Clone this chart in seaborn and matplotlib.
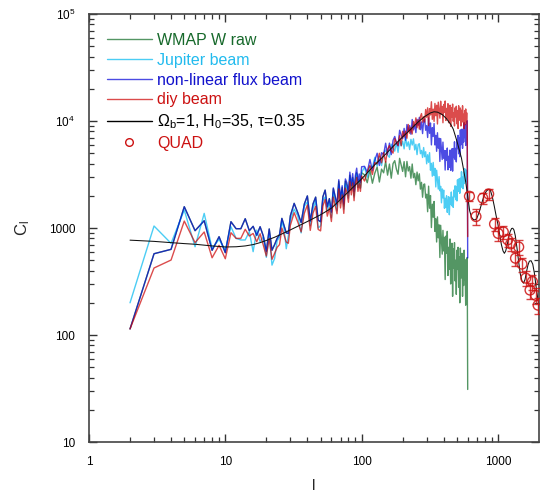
import matplotlib
matplotlib.use("Agg")
import matplotlib.pyplot as plt
import numpy as np
import pandas as pd
import seaborn as sns
from matplotlib.lines import Line2D
from matplotlib.ticker import FixedLocator, NullFormatter

# multipole grid of the measured spectra
ell = list(range(2, 31)) + list(range(32, 101, 2)) + list(range(105, 601, 5))

nonlinear_beam = [
    114, 575, 632, 1581, 944, 1170, 619, 829, 588, 1145, 985, 985, 1221, 944, 1037, 855, 1028, 842, 605,
    980, 620, 700, 800, 870, 1230, 1050, 900, 890, 1300,
    1700, 1390, 1125, 1677, 1995, 1160, 1680, 1944, 1184, 1144, 1962, 2261, 1577, 1881, 1408, 2372, 1984,
    1662, 2828, 1881, 2484, 1672, 2875, 2640, 2125, 3328, 2489, 3222, 2200, 3107, 3625, 2677, 3202, 2677, 3737,
    3770, 3320, 4370, 3450, 4300, 5000, 3840, 5060, 4850, 6200,
    4880, 6210, 4850, 6590, 7170, 6240, 5840, 8190, 7400, 6830,
    8530, 6620, 9270, 8000, 9060, 7520, 10330, 8260, 9320, 7790,
    10360, 9130, 10810, 8300, 9800, 7630, 10030, 10410, 8190, 9060,
    7010, 10700, 7670, 9580, 5980, 8670, 7170, 9470, 5970, 7340,
    5210, 7770, 5580, 6900, 4190, 6850, 5420, 4370, 6350, 4490,
    5300, 3480, 5280, 4280, 5590, 3500, 4680, 3700, 5350, 3450,
    4770, 5500, 3400, 5530, 4550, 6390, 4370, 5550, 4150, 6660,
    5520, 7340, 4940, 7010, 4640, 8260, 5990, 7480, 8400, 5550,
    8290, 6360, 9630, 7010, 8210, 5910, 9340, 6740, 10040, 525,
]

diy_beam = [
    114, 423, 502, 1161, 730, 918, 527, 689, 516, 904, 800, 800, 973, 842, 890, 745, 884, 693, 547,
    800, 510, 580, 660, 700, 1000, 860, 740, 720, 1060,
    1390, 1140, 920, 1375, 1640, 950, 1380, 1595, 970, 940, 1610, 1850, 1290, 1540, 1150, 1945, 1630,
    1360, 2320, 1540, 2040, 1370, 2360, 2165, 1740, 2730, 2040, 2640, 1800, 2550, 2970, 2200, 2625, 2200, 3060,
    2750, 3350, 3840, 3170, 4090, 3970, 4990, 4070, 5080, 4120,
    5430, 5890, 5260, 5010, 6830, 6300, 5910, 7290, 5880, 8010,
    7090, 8030, 6900, 9280, 7690, 8720, 7560, 9900, 8970, 10700,
    8650, 10270, 8400, 11020, 11730, 9750, 10970, 9770, 12810, 10850,
    13280, 9070, 13040, 11400, 15130, 10370, 12920, 9920, 14590, 11200,
    14030, 9380, 15000, 12500, 10630, 15310, 11530, 13700, 9630, 14260,
    12040, 15380, 10110, 13120, 10630, 14520, 9640, 12600, 14040, 8930,
    13330, 10920, 14390, 9950, 11940, 8990, 13280, 10930, 13740, 9410,
    12520, 8510, 13880, 10170, 12130, 13220, 8980, 12600, 9760, 13880,
    10220, 11550, 8490, 12540, 9220, 12960, 9630, 11930, 8660, 830,
]

jupiter_beam = [
    200, 1044, 719, 1472, 668, 1370, 645, 783, 622, 1028, 800, 773, 773, 925, 601, 957, 745, 829, 532,
    870, 450, 520, 760, 820, 1150, 980, 640, 850, 1180,
    1500, 1300, 900, 1600, 1750, 1050, 1500, 1800, 1000, 1050, 1800, 1950, 1450, 1750, 1250, 2150, 1800,
    1450, 2500, 1700, 2250, 1500, 2600, 2350, 1900, 2950, 2250, 2900, 1950, 2750, 3200, 2400, 2850, 2350, 3300,
    3700, 2980, 3760, 3690, 4580, 3780, 4650, 3830, 4960, 5360,
    4800, 4580, 6070, 5580, 5230, 6320, 5090, 6660, 5850, 6470,
    5490, 7070, 5810, 6390, 5410, 6740, 5960, 6810, 5370, 6060,
    4850, 6020, 6140, 4950, 5310, 4560, 5650, 4630, 5160, 3980,
    4840, 4110, 5060, 3470, 4020, 3050, 4100, 3100, 3610, 2420,
    3470, 2800, 2310, 3020, 2230, 2450, 1720, 2320, 1910, 2260,
    1530, 1900, 1550, 2000, 1400, 1770, 1960, 1330, 1930, 1660,
    2170, 1610, 1940, 1560, 2260, 1960, 2480, 1840, 2440, 1790,
    2820, 2190, 2610, 2890, 2110, 2920, 2390, 3360, 2620, 2980,
    2330, 3340, 2600, 3590, 2830, 3500, 2710, 3460, 2720, 1500,
]

wmap_raw = [
    114, 575, 632, 1581, 944, 1170, 619, 829, 588, 1145, 985, 985, 1221, 944, 1037, 855, 1028, 842, 605,
    980, 620, 700, 800, 870, 1230, 1050, 900, 890, 1300,
    1700, 1390, 1125, 1677, 1995, 1160, 1680, 1944, 1184, 1144, 1962, 2261, 1577, 1881, 1408,
    2330, 1940, 1620, 2740, 1820, 2390, 1600, 2740, 2500, 2000, 3110, 2310, 2970, 2020, 2830, 3280, 2400,
    2850, 2370, 3290,
    3140, 2650, 3490, 2620, 3260, 3710, 2690, 3550, 3280, 4180,
    3120, 3960, 2920, 4000, 4260, 3540, 3180, 4480, 3870, 3380,
    4170, 3010, 4190, 3410, 3750, 2920, 3960, 2950, 3240, 2540,
    3330, 2760, 3210, 2310, 2670, 1940, 2550, 2580, 1910, 2070,
    1420, 2460, 1530, 2010, 1010, 1670, 1260, 1770, 930, 1220,
    740, 1270, 810, 1070, 530, 1060, 770, 570, 950, 610,
    820, 330, 840, 580, 930, 360, 660, 410, 790, 300,
    590, 720, 230, 640, 420, 730, 320, 500, 240, 620,
    410, 660, 280, 540, 200, 650, 340, 500, 580, 230,
    520, 290, 620, 330, 430, 190, 510, 250, 530, 31,
]

# theory curve
model_ell = [2, 3, 4, 5, 6, 8, 10, 12, 14, 16, 18, 20, 23, 26, 30, 40, 50, 60, 80, 100, 125, 150, 175,
             200, 230, 260, 290, 320, 340, 360, 390, 420, 450, 470, 500, 520, 540, 560, 580, 600, 620, 640, 660,
             680, 700, 730, 760, 790, 820, 850, 880, 910, 940, 970, 1000, 1030, 1060, 1090, 1115, 1140, 1170, 1200, 1230,
             1260, 1285, 1310, 1340, 1380, 1420, 1460, 1500, 1540, 1580, 1620, 1660, 1700, 1750, 1800, 1850, 1900, 1950, 2000]
model_cl = [770, 750, 730, 715, 705, 680, 665, 668, 680, 700, 730, 765, 820, 880, 960, 1150, 1330, 1530, 2180, 2880, 3900, 4900, 6000,
            7100, 8400, 9800, 11000, 11900, 12200, 12100, 11500, 10500, 9300, 8400, 6500, 5400, 4500, 3500, 2700, 2000, 1450, 1260, 1200,
            1190, 1230, 1420, 1700, 2000, 2200, 2300, 2250, 1950, 1600, 1300, 1080, 860, 700, 610, 580, 610, 700, 820, 930,
            990, 995, 960, 850, 650, 480, 370, 320, 305, 330, 390, 450, 490, 495, 460, 380, 290, 230, 185]

# QUAD band powers
quad_ell = [618, 690, 775, 855, 944, 1005, 1095, 1180, 1240, 1345, 1420, 1500, 1600, 1720, 1790, 1890, 1970]
quad_cl = [1980, 1280, 1900, 2080, 1090, 890, 920, 775, 710, 522, 665, 460, 340, 263, 316, 235, 190]
quad_err = [200, 220, 230, 250, 150, 130, 130, 110, 100, 80, 100, 70, 55, 45, 50, 38, 32]

series_names = ["WMAP W raw", "Jupiter beam", "non-linear flux beam", "diy beam"]
series_colors = ["#0b6a22", "#00b8f0", "#0000d8", "#cc0000"]
text_colors = ["#17692b", "#22bbee", "#1111cc", "#cc1111"]
RED = "#cc1111"

sns.set_theme(style="ticks")
plt.rcParams["font.family"] = ["Liberation Sans", "DejaVu Sans"]
plt.rcParams["mathtext.fontset"] = "custom"
plt.rcParams["mathtext.rm"] = "Liberation Sans"
plt.rcParams["mathtext.it"] = "Liberation Sans:italic"
plt.rcParams["mathtext.bf"] = "Liberation Sans:bold"
plt.rcParams["mathtext.default"] = "regular"

fig = plt.figure(figsize=(5.4, 4.98), dpi=100)
ax = fig.add_axes([0.1648, 0.1124, 0.8333, 0.8595])

spectra = pd.DataFrame({
    "l": ell * 4,
    "C": wmap_raw + jupiter_beam + nonlinear_beam + diy_beam,
    "beam": sum([[n] * len(ell) for n in series_names], []),
})
sns.lineplot(data=spectra, x="l", y="C", hue="beam", hue_order=series_names,
             palette=dict(zip(series_names, series_colors)), estimator=None, sort=False,
             lw=1.0, alpha=0.7, legend=False, ax=ax)

sns.lineplot(x=model_ell, y=model_cl, color="#111111", lw=0.75, estimator=None, sort=False, ax=ax)

ax.errorbar(quad_ell, quad_cl, yerr=quad_err, fmt="none", ecolor=RED, elinewidth=1.0,
            capsize=3, capthick=1.0, alpha=0.8, zorder=5)
sns.scatterplot(x=quad_ell, y=quad_cl, marker="o", s=50, fc="none", ec=RED, linewidth=1.0,
                alpha=0.85, zorder=6, ax=ax)

ax.set_xscale("log")
ax.set_yscale("log")
ax.set_xlim(1, 2000)
ax.set_ylim(10, 1e5)
ax.set_xticks([1, 10, 100, 1000])
ax.set_xticklabels(["1", "10", "100", "1000"])
ax.set_yticks([10, 100, 1000, 1e4, 1e5])
ax.set_yticklabels(["10", "100", "1000", "10$^4$", "10$^5$"])

# minor ticks at 2..9 times each decade
x_minor = [m * 10 ** e for e in range(0, 4) for m in range(2, 10) if m * 10 ** e < 2000]
y_minor = [m * 10 ** e for e in range(1, 5) for m in range(2, 10)]
ax.xaxis.set_minor_locator(FixedLocator(x_minor))
ax.yaxis.set_minor_locator(FixedLocator(y_minor))
ax.xaxis.set_minor_formatter(NullFormatter())
ax.yaxis.set_minor_formatter(NullFormatter())

ax.tick_params(which="both", direction="in", top=True, right=True, colors="#333333",
               labelcolor="black", labelsize=8.5)
ax.tick_params(which="major", length=6, width=1.0, pad=10)
ax.tick_params(which="minor", length=3.5, width=0.9)
for sp in ax.spines.values():
    sp.set_color("#444444")
    sp.set_linewidth(1.2)

ax.set_xlabel("l", fontsize=11, labelpad=8)
ax.set_ylabel("C$_\\mathregular{l}$", fontsize=12, labelpad=12)

handles = [Line2D([], [], color=c, lw=1.0, alpha=0.7) for c in series_colors]
handles.append(Line2D([], [], color="black", lw=1.0))
handles.append(Line2D([], [], marker="o", ms=5.5, mfc="none", mec=RED, ls="none"))
labels = series_names + ["$\\Omega_b$=1, H$_0$=35, $\\tau$=0.35", "QUAD"]
ax.legend(handles, labels, loc="upper left", bbox_to_anchor=(107 / 540, 1 - 33 / 498),
          bbox_transform=fig.transFigure, frameon=False, fontsize=11.5, borderpad=0,
          borderaxespad=0, handlelength=2.8, handletextpad=0.35, labelspacing=0.3,
          labelcolor=text_colors + ["black", RED])

fig.savefig("out.png", dpi=100)
